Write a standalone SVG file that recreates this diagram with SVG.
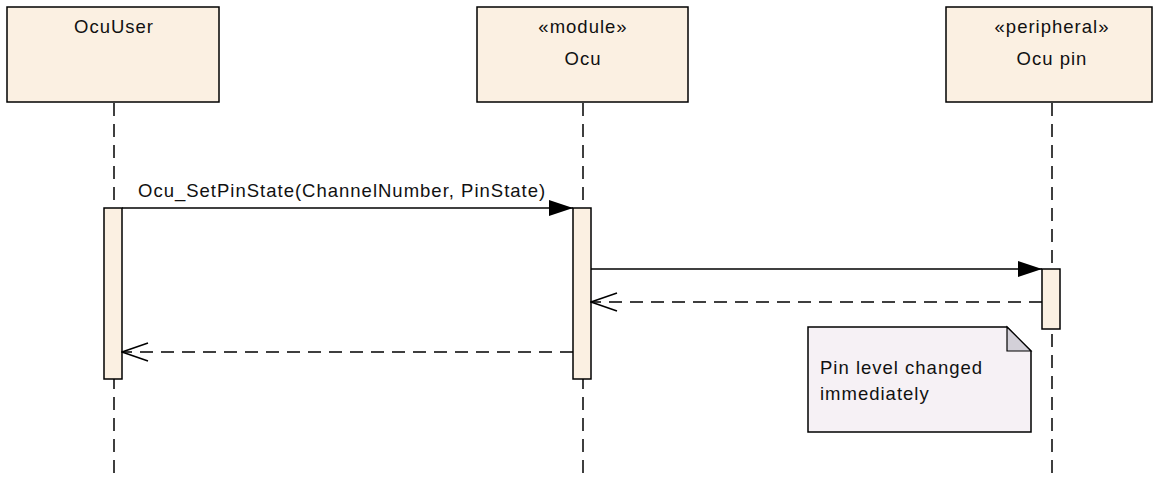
<svg xmlns="http://www.w3.org/2000/svg" width="1154" height="478" viewBox="0 0 1154 478">
<defs>
<style>
.box{fill:#fbf0e2;stroke:#000;stroke-width:1.5}
.bar{fill:#fbf0e2;stroke:#000;stroke-width:1.5}
.life{stroke:#000;stroke-width:1.5;stroke-dasharray:13 8;fill:none}
.msg{stroke:#000;stroke-width:1.5;fill:none}
.ret{stroke:#000;stroke-width:1.5;fill:none;stroke-dasharray:13 8}
.t{font-family:"Liberation Sans",Arial,sans-serif;font-size:18.5px;letter-spacing:1px;fill:#111}
.c{text-anchor:middle}
.note{fill:#f6f1f5;stroke:#000;stroke-width:1.5}
.fold{fill:#d3d0d8;stroke:#000;stroke-width:1.2}
</style>
<marker id="filled" markerWidth="24" markerHeight="16" refX="24" refY="8" orient="auto" markerUnits="userSpaceOnUse">
<path d="M0,0 L24,8 L0,16 Z" fill="#000"/>
</marker>
<marker id="open" markerWidth="28" markerHeight="20" refX="27" refY="10" orient="auto" markerUnits="userSpaceOnUse">
<path d="M1,1 L27,10 L1,19" fill="none" stroke="#000" stroke-width="1.5"/>
</marker>
</defs>
<g id="lifelines">
<line class="life" x1="114" y1="103" x2="114" y2="478"/>
<line class="life" x1="583" y1="103" x2="583" y2="478"/>
<line class="life" x1="1052" y1="103" x2="1052" y2="478"/>
</g>
<g id="OcuUser">
<rect class="box" x="7" y="7" width="212" height="95"/>
<text class="t c" x="114" y="33">OcuUser</text>
</g>
<g id="Ocu">
<rect class="box" x="477" y="7" width="211" height="95"/>
<text class="t c" x="583" y="33">«module»</text>
<text class="t c" x="583" y="65">Ocu</text>
</g>
<g id="OcuPin">
<rect class="box" x="946" y="7" width="206" height="95"/>
<text class="t c" x="1052" y="33">«peripheral»</text>
<text class="t c" x="1052" y="65">Ocu pin</text>
</g>
<g id="activations">
<rect class="bar" x="104" y="208" width="18" height="171"/>
<rect class="bar" x="573" y="208" width="18" height="171"/>
<rect class="bar" x="1042" y="269" width="18" height="60"/>
</g>
<g id="connectors">
<line class="msg" x1="122" y1="208" x2="573" y2="208" marker-end="url(#filled)"/>
<text class="t" x="138" y="197">Ocu_SetPinState(ChannelNumber, PinState)</text>
<line class="msg" x1="591" y1="269" x2="1042" y2="269" marker-end="url(#filled)"/>
<line class="ret" x1="1042" y1="302" x2="591" y2="302" marker-end="url(#open)"/>
<line class="ret" x1="573" y1="352" x2="122" y2="352" marker-end="url(#open)"/>
</g>
<g id="note">
<path class="note" d="M808,327 L1007,327 L1031,351 L1031,432 L808,432 Z"/>
<path class="fold" d="M1007,327 L1007,351 L1031,351 Z"/>
<text class="t" x="820" y="374">Pin level changed</text>
<text class="t" x="820" y="400">immediately</text>
</g>
</svg>
